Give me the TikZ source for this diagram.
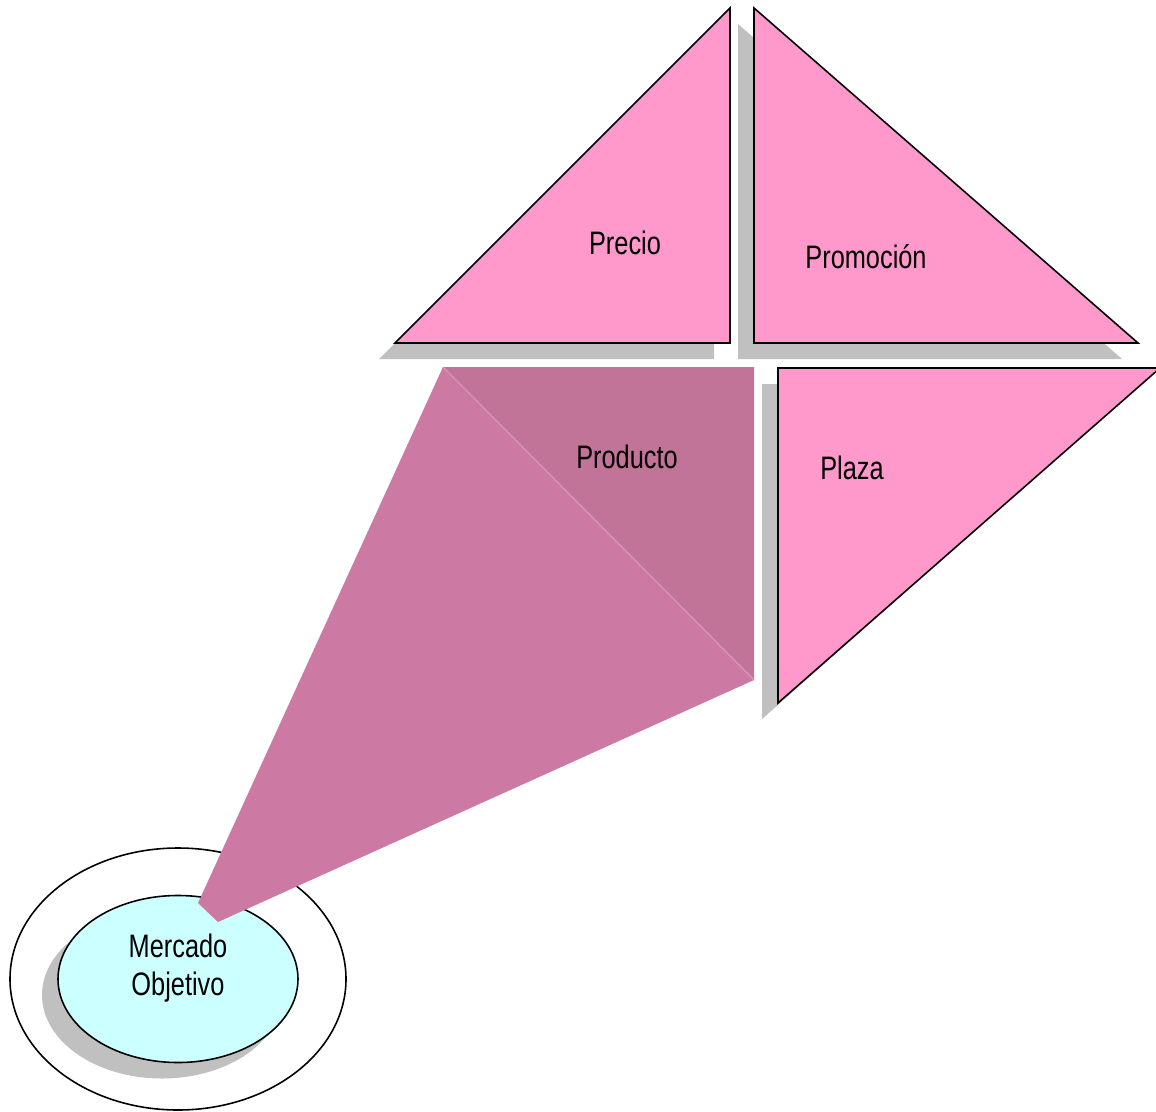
\documentclass[tikz,border=0pt]{standalone}
\usepackage{fontspec}
\setmainfont[FakeStretch=0.78]{Liberation Sans}
\begin{document}
\begin{tikzpicture}[x=0.02cm,y=-0.02cm,
  tri/.style={fill=pinkf,draw=black,line width=0.9pt,line join=miter},
  shad/.style={fill=shadg,draw=none},
  lbl/.style={font=\fontsize{18.5}{21.6}\selectfont,text=black,align=center,inner sep=0pt}]
\definecolor{pinkf}{HTML}{FF99CC}
\definecolor{shadg}{HTML}{C0C0C0}
\definecolor{conef}{HTML}{CC79A3}
\definecolor{prodf}{HTML}{C27498}
\definecolor{cyanf}{HTML}{CCFFFF}
\useasboundingbox (0,0) rectangle (1156,1112);
% shadows of triangles
\fill[shad] (379,359) -- (714,24) -- (714,359) -- cycle;
\fill[shad] (738,24) -- (738,359) -- (1122,359) -- cycle;
\fill[shad] (762,384) -- (1140,384) -- (762,719) -- cycle;
% triangles
\draw[tri] (395,343) -- (730,8) -- (730,343) -- cycle;
\draw[tri] (754,8) -- (754,343) -- (1138,343) -- cycle;
\draw[tri] (778,368) -- (1160,368) -- (778,703) -- cycle;
% target market
\draw[line width=0.9pt,fill=white] (178,979) ellipse [x radius=168, y radius=131];
\fill[shad] (162,995) ellipse [x radius=120, y radius=83.5];
\draw[line width=0.9pt,fill=cyanf] (178,979) ellipse [x radius=120, y radius=83.5];
% cone
\coordinate (c1) at (443,367);
\coordinate (c2) at (754,367);
\coordinate (c3) at (754,680);
\coordinate (c4) at (218,922);
\coordinate (c5) at (198,903);
\fill[conef] (c1) -- (c3) -- (c4) -- (c5) -- cycle;
\fill[prodf] (c1) -- (c2) -- (c3) -- cycle;
\draw[conef!80!white,line width=0.8pt] (c1) -- (c3);
% labels
\node[lbl] (precio) at (625,243) {Precio};
\node[lbl] (promocion) at (866,257) {Promoción};
\node[lbl] (producto) at (627,457) {Producto};
\node[lbl] (plaza) at (852,468) {Plaza};
\node[lbl] (mercado) at (178,968) {Mercado\\Objetivo};
\end{tikzpicture}
\end{document}
